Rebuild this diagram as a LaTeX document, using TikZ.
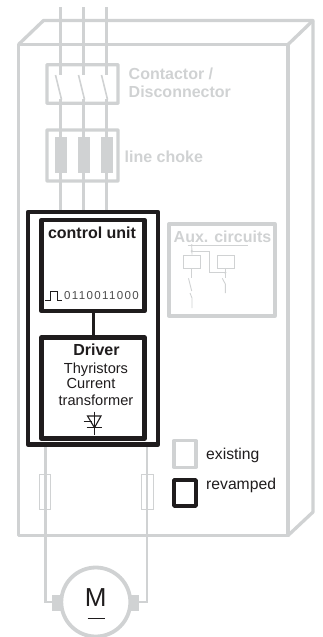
\documentclass[tikz,border=0pt]{standalone}
\usepackage{fontspec}
\setmainfont{Liberation Sans}
\newfontfamily\bitsfont[LetterSpace=12]{Liberation Sans}
\definecolor{gr}{HTML}{D0D2D3}
\definecolor{bk}{HTML}{1F1C1D}
\tikzset{
 gline/.style={draw=gr,line width=3.3pt,line join=round},
 wire/.style={draw=gr,line width=2.6pt},
 thin gline/.style={draw=gr,line width=0.9pt},
 bline/.style={draw=bk,line width=4.4pt,line join=round},
 glabel/.style={text=gr,font=\bfseries\fontsize{16}{17}\selectfont,align=left,inner sep=0pt},
 blabel/.style={text=bk,inner sep=0pt,align=center},
}
\begin{document}
\begin{tikzpicture}[x=1pt,y=-1pt]
\useasboundingbox (0,0) rectangle (323,637);
% cabinet
\draw[gline] (18.5,44.5) rectangle (288,535.5);
\draw[gline] (18.5,44.5) -- (43.5,20.5) -- (313,20.5) -- (288,44.5);
\draw[gline] (313,20.5) -- (313,512) -- (288,535.5);
% phases
\foreach \x/\n in {60.5/a,83.5/b,106.5/c}{
 \draw[wire] (\x,7) -- (\x,75);
 \draw[wire] (\x,99) -- (\x,212);
 \draw[draw=gr,line width=1.6pt] (\x-5,75) -- (\x+1,99.5);
 \fill[gr] (\x-6,137) rectangle (\x+6,173);
}
% contactor and choke
\node[draw=gr,line width=3.3pt,rounded corners=0.5pt,minimum width=71pt,minimum height=38.5pt,inner sep=0pt] (contactor) at (82.5,84) {};
\node[draw=gr,line width=3.3pt,rounded corners=0.5pt,minimum width=71pt,minimum height=51pt,inner sep=0pt] (choke) at (82.5,155.5) {};
\node[glabel,anchor=west] (contlabel) at (128.5,82.5) {Contactor /\\[1pt]Disconnector};
\node[glabel,anchor=west] (chokelabel) at (124.5,156.5) {line choke};
% aux circuits
\node[gline,draw,minimum width=106pt,minimum height=92pt,inner sep=0pt] (aux) at (222,270) {};
\node[glabel,anchor=center] (auxlabel) at (222.5,237) {Aux. circuits};
\draw[thin gline] (187.7,245.3) -- (247.7,245.3);
\node[thin gline,draw,minimum width=17.3pt,minimum height=13.3pt,inner sep=0pt] (rel1) at (192,261.7) {};
\node[thin gline,draw,minimum width=17pt,minimum height=13.3pt,inner sep=0pt] (rel2) at (226.2,261.7) {};
\draw[thin gline] (191.7,245.3) -- (rel1.north);
\draw[thin gline] (191.7,251) -- (209.6,251) -- (209.6,272.7) -- (225.3,272.7);
\draw[thin gline] (225.3,268.3) -- (225.3,278);
\draw[thin gline] (222.3,278.3) -- (225.3,284) -- (225.3,293);
\draw[thin gline] (191.7,268.3) -- (191.7,278);
\draw[thin gline] (188.5,278.3) -- (191.7,291);
\draw[thin gline] (190,293) -- (192,298) -- (192,308);
\fill[gr] (191.7,245.3) circle (1.2) (191.7,251) circle (1.2) (225.3,272.7) circle (1.2);
% fuses and motor wires
\draw[wire] (45.3,446) -- (45.3,602) -- (53,602);
\draw[wire] (147,446) -- (147,602) -- (139,602);
\node[thin gline,draw,fill=none,minimum width=11.3pt,minimum height=35pt,inner sep=0pt] (fuse1) at (45,491.5) {};
\node[thin gline,draw,fill=none,minimum width=11.3pt,minimum height=35pt,inner sep=0pt] (fuse2) at (147.3,491.5) {};
% motor
\fill[gr] (52,595) rectangle (63,611);
\fill[gr] (128,595) rectangle (139,611);
\node[circle,draw=gr,fill=white,line width=3.8pt,minimum size=69pt,inner sep=0pt] (motor) at (95.8,602) {};
\node[blabel,font=\fontsize{26}{26}\selectfont] (m) at (95.8,598) {M};
\draw[bk,line width=0.9pt] (87.7,618) -- (105,618);
% revamped
\draw[bline] (28,212) rectangle (158,444.5);
\node[bline,draw,fill=white,minimum width=103pt,minimum height=91pt,inner sep=0pt] (cu) at (93,265.5) {};
\node[bline,draw,fill=white,minimum width=103pt,minimum height=101pt,inner sep=0pt] (drv) at (93,388) {};
\draw[draw=bk,line width=3pt] (cu.south) -- (drv.north);
\node[blabel,font=\bfseries\fontsize{16}{17}\selectfont] (culabel) at (92,232.5) {control unit};
\draw[bk,line width=1pt] (45,300.7) -- (50,300.7) -- (50,291.2) -- (57.5,291.2) -- (57.5,300.7) -- (62,300.7);
\node[blabel,font=\bitsfont\fontsize{11.5}{12}\selectfont,anchor=west,text=black!70] (bits) at (64,295.5) {0110011000};
\node[blabel,font=\bfseries\fontsize{16}{17}\selectfont] (drvlabel) at (96.5,350) {Driver};
\node[blabel,font=\fontsize{14.6}{15}\selectfont] (t1) at (96,369.5) {Thyristors};
\node[blabel,font=\fontsize{14.6}{15}\selectfont] (t2) at (91,383) {Current};
\node[blabel,font=\fontsize{14.6}{15}\selectfont] (t3) at (96,400) {transformer};
% thyristor
\draw[bk,line width=1.1pt] (94.5,411.7) -- (94.5,435);
\draw[bk,line width=1.1pt] (86.7,427.7) -- (101.7,427.7);
\draw[bk,line width=1.1pt] (87.5,416) -- (101,416) -- (94.5,427.7) -- cycle;
\draw[bk,line width=1.1pt] (83.5,421.7) -- (91.5,421.7);
% legend
\node[gline,draw,minimum width=22pt,minimum height=26.5pt,inner sep=0pt] (lg1) at (185,454) {};
\node[bline,draw,minimum width=21.5pt,minimum height=25.5pt,inner sep=0pt] (lg2) at (185,493) {};
\node[blabel,font=\fontsize{15.7}{16}\selectfont,anchor=west] (lt1) at (206,455) {existing};
\node[blabel,font=\fontsize{15.7}{16}\selectfont,anchor=west] (lt2) at (206,485) {revamped};
\end{tikzpicture}
\end{document}
